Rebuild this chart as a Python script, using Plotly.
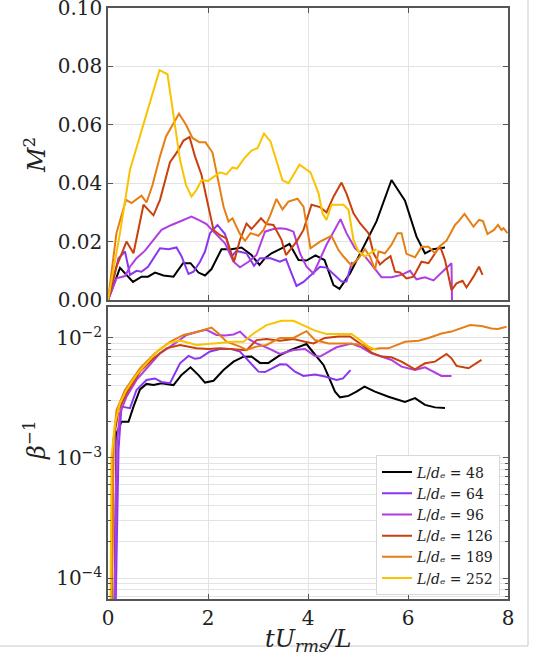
import plotly.graph_objects as go

labels = ["48", "64", "96", "126", "189", "252"]
colors = ["#000000", "#8a35f0", "#b03ee0", "#c9400c", "#e67e14", "#f9c300"]
top_ticks = [0.0, 0.02, 0.04, 0.06, 0.08, 0.10]

# ---- top panel: M^2 ----
t48 = [0, 0.24, 0.5, 0.67, 0.8, 0.94, 1.11, 1.31, 1.5, 1.65, 1.81, 1.94, 2.07, 2.27, 2.47, 2.67, 2.87, 3.03, 3.14, 3.27, 3.47, 3.63, 3.81, 3.97, 4.15, 4.33, 4.51, 4.63, 4.84, 5.04, 5.37, 5.67, 5.94, 6.17, 6.34, 6.5, 6.74]
m48 = [0, 0.011, 0.0062, 0.008, 0.008, 0.0094, 0.0084, 0.008, 0.0126, 0.0126, 0.0094, 0.0084, 0.0106, 0.0174, 0.0174, 0.018, 0.0154, 0.012, 0.0143, 0.016, 0.0177, 0.0192, 0.0137, 0.0135, 0.0153, 0.0137, 0.0051, 0.0038, 0.0091, 0.0157, 0.0269, 0.0411, 0.034, 0.0217, 0.016, 0.0174, 0.018]

t64 = [0, 0.21, 0.34, 0.44, 0.57, 0.67, 0.8, 1.04, 1.21, 1.37, 1.47, 1.61, 1.71, 1.84, 1.94, 2.04, 2.19, 2.34, 2.47, 2.57, 2.77, 2.92, 3.04, 3.25, 3.44, 3.56, 3.67, 3.77, 3.91, 4.07, 4.24, 4.37, 4.51, 4.67, 4.77, 4.88]
m64 = [0, 0.0143, 0.0166, 0.0086, 0.01, 0.0097, 0.0114, 0.0177, 0.0174, 0.018, 0.015, 0.0089, 0.0097, 0.0131, 0.0166, 0.0229, 0.0257, 0.0226, 0.0149, 0.0168, 0.016, 0.0117, 0.0143, 0.0143, 0.0131, 0.014, 0.0091, 0.0048, 0.0062, 0.0086, 0.0114, 0.0111, 0.0088, 0.0063, 0.0063, 0.013]

t96 = [0, 0.17, 0.34, 0.44, 0.57, 0.74, 0.91, 1.07, 1.27, 1.47, 1.67, 1.84, 1.97, 2.14, 2.34, 2.51, 2.64, 2.81, 2.97, 3.14, 3.31, 3.44, 3.57, 3.71, 3.84, 3.97, 4.11, 4.37, 4.65, 4.77, 4.94, 5.14, 5.31, 5.47, 5.67, 5.87, 6.04, 6.17, 6.34, 6.51, 6.71, 6.87, 6.88]
m96 = [0, 0.0074, 0.0082, 0.0114, 0.0143, 0.0169, 0.0206, 0.024, 0.0257, 0.0272, 0.0286, 0.0272, 0.026, 0.0229, 0.0194, 0.0131, 0.0112, 0.0131, 0.0154, 0.0234, 0.0243, 0.0246, 0.0243, 0.0234, 0.016, 0.0114, 0.0091, 0.0189, 0.0277, 0.0229, 0.0177, 0.0149, 0.0114, 0.0078, 0.0078, 0.0086, 0.01, 0.0071, 0.0078, 0.0067, 0.01, 0.0126, 0.0]

t126 = [0, 0.17, 0.37, 0.51, 0.71, 0.8, 0.91, 1.04, 1.24, 1.39, 1.51, 1.63, 1.74, 1.87, 2.01, 2.11, 2.24, 2.37, 2.52, 2.64, 2.77, 2.87, 3.06, 3.17, 3.31, 3.47, 3.56, 3.77, 3.91, 4.07, 4.24, 4.37, 4.51, 4.67, 4.77, 4.91, 5.04, 5.21, 5.31, 5.44, 5.54, 5.65, 5.74, 5.84, 5.97, 6.11, 6.27, 6.41, 6.64, 6.74, 6.87, 6.97, 7.09, 7.17, 7.31, 7.42, 7.49]
m126 = [0, 0.0114, 0.02, 0.016, 0.0326, 0.031, 0.029, 0.0343, 0.0472, 0.0509, 0.0546, 0.0558, 0.0492, 0.0429, 0.032, 0.024, 0.0222, 0.0211, 0.0131, 0.0206, 0.0262, 0.0243, 0.028, 0.026, 0.0257, 0.0206, 0.0154, 0.02, 0.024, 0.0326, 0.0318, 0.03, 0.0354, 0.0402, 0.0364, 0.0297, 0.0263, 0.0229, 0.016, 0.0122, 0.0137, 0.015, 0.0097, 0.0094, 0.0074, 0.008, 0.0131, 0.0126, 0.0185, 0.0137, 0.0034, 0.0057, 0.0066, 0.0043, 0.008, 0.0114, 0.0086]

t189 = [0, 0.17, 0.36, 0.47, 0.67, 0.77, 0.89, 1.04, 1.16, 1.31, 1.42, 1.56, 1.69, 1.83, 1.95, 2.09, 2.17, 2.31, 2.41, 2.49, 2.63, 2.74, 2.85, 3.01, 3.11, 3.24, 3.37, 3.49, 3.61, 3.79, 3.91, 4.05, 4.24, 4.37, 4.47, 4.61, 4.71, 4.87, 5.01, 5.14, 5.24, 5.34, 5.41, 5.54, 5.67, 5.79, 5.87, 5.97, 6.14, 6.27, 6.41, 6.54, 6.64, 6.77, 6.94, 7.01, 7.13, 7.31, 7.42, 7.5, 7.59, 7.72, 7.8, 7.87, 7.91, 7.99]
m189 = [0, 0.023, 0.0343, 0.0332, 0.0357, 0.0334, 0.0394, 0.0492, 0.056, 0.0603, 0.0638, 0.06, 0.0555, 0.054, 0.054, 0.0505, 0.0434, 0.032, 0.0269, 0.028, 0.0229, 0.0203, 0.0229, 0.022, 0.024, 0.0288, 0.0346, 0.031, 0.0337, 0.0347, 0.032, 0.0177, 0.02, 0.0211, 0.022, 0.0171, 0.0149, 0.0118, 0.0143, 0.0174, 0.0149, 0.0103, 0.0166, 0.016, 0.0189, 0.0229, 0.0229, 0.0158, 0.0146, 0.0182, 0.0182, 0.016, 0.0185, 0.0203, 0.0257, 0.0269, 0.0295, 0.0251, 0.0274, 0.027, 0.0226, 0.024, 0.0257, 0.024, 0.0246, 0.0229]

t252 = [0, 0.24, 0.44, 0.67, 0.84, 1.03, 1.19, 1.31, 1.44, 1.56, 1.67, 1.77, 1.87, 2.0, 2.24, 2.37, 2.49, 2.58, 2.72, 2.87, 2.99, 3.12, 3.25, 3.49, 3.61, 3.83, 4.05, 4.21, 4.29, 4.37, 4.47, 4.71, 4.81, 4.91, 5.01, 5.14, 5.37]
m252 = [0, 0.023, 0.0446, 0.058, 0.0675, 0.0787, 0.0773, 0.064, 0.048, 0.0394, 0.0354, 0.0377, 0.041, 0.0408, 0.0437, 0.043, 0.0454, 0.045, 0.0484, 0.0512, 0.052, 0.057, 0.0543, 0.041, 0.040, 0.0463, 0.0437, 0.0366, 0.0297, 0.0274, 0.0326, 0.0326, 0.0309, 0.0206, 0.0166, 0.0149, 0.0174]

# ---- bottom panel: 1/beta ----
s48 = [0.11, 0.17, 0.27, 0.41, 0.51, 0.64, 0.77, 0.91, 1.07, 1.31, 1.47, 1.65, 1.81, 1.94, 2.11, 2.31, 2.51, 2.71, 2.87, 3.04, 3.21, 3.44, 3.67, 3.97, 4.07, 4.31, 4.44, 4.54, 4.64, 4.81, 4.97, 5.13, 5.34, 5.61, 5.94, 6.14, 6.34, 6.54, 6.74]
b48 = [1e-5, 1.6e-3, 2.0e-3, 2.0e-3, 2.68e-3, 3.73e-3, 4.14e-3, 4.05e-3, 4.2e-3, 4.05e-3, 4.92e-3, 5.7e-3, 4.9e-3, 4.25e-3, 4.4e-3, 5.4e-3, 6.35e-3, 6.99e-3, 7.0e-3, 6.2e-3, 6.2e-3, 7.2e-3, 8.0e-3, 8.9e-3, 7.9e-3, 5.96e-3, 4.47e-3, 3.57e-3, 3.2e-3, 3.29e-3, 3.57e-3, 3.93e-3, 3.57e-3, 3.24e-3, 2.93e-3, 3.15e-3, 2.77e-3, 2.64e-3, 2.61e-3]

s64 = [0.12, 0.21, 0.27, 0.44, 0.57, 0.77, 0.94, 1.07, 1.24, 1.44, 1.61, 1.74, 1.84, 2.04, 2.24, 2.47, 2.64, 2.81, 3.01, 3.14, 3.44, 3.57, 3.74, 3.91, 4.14, 4.34, 4.57, 4.7, 4.85]
b64 = [1e-5, 1.17e-3, 2.68e-3, 2.6e-3, 3.69e-3, 4.47e-3, 4.6e-3, 4.3e-3, 4.2e-3, 6.15e-3, 7.08e-3, 6.7e-3, 6.8e-3, 7.72e-3, 8.1e-3, 8.1e-3, 7.7e-3, 6.47e-3, 5.24e-3, 5.2e-3, 6.03e-3, 6.0e-3, 5.24e-3, 4.82e-3, 4.97e-3, 4.77e-3, 4.47e-3, 4.6e-3, 5.4e-3]

s96 = [0.11, 0.17, 0.24, 0.37, 0.57, 0.84, 1.04, 1.34, 1.57, 1.81, 1.97, 2.17, 2.34, 2.51, 2.64, 2.77, 2.97, 3.21, 3.44, 3.71, 3.94, 4.14, 4.24, 4.57, 4.87, 5.07, 5.27, 5.47, 5.67, 5.87, 6.14, 6.34, 6.67, 6.87]
b96 = [1e-5, 1.25e-3, 2.36e-3, 3.24e-3, 4.47e-3, 5.96e-3, 7.45e-3, 9.0e-3, 1.06e-2, 1.13e-2, 1.17e-2, 1.06e-2, 1.05e-2, 1.07e-2, 1.13e-2, 1.0e-2, 9.0e-3, 8.2e-3, 7.35e-3, 7.94e-3, 8.1e-3, 7.08e-3, 7.0e-3, 8.36e-3, 9.0e-3, 8.36e-3, 7.45e-3, 7.0e-3, 6.56e-3, 5.77e-3, 5.4e-3, 5.7e-3, 4.82e-3, 4.82e-3]

s126 = [0.06, 0.11, 0.21, 0.37, 0.64, 0.91, 1.17, 1.44, 1.77, 2.01, 2.24, 2.51, 2.77, 2.97, 3.17, 3.44, 3.71, 3.94, 4.11, 4.34, 4.61, 4.84, 5.04, 5.27, 5.47, 5.67, 5.87, 6.14, 6.34, 6.54, 6.77, 6.87, 6.97, 7.21, 7.47]
b126 = [1e-5, 1.4e-3, 2.5e-3, 3.46e-3, 5.24e-3, 6.77e-3, 8.2e-3, 8.75e-3, 8.2e-3, 8.1e-3, 8.2e-3, 8.1e-3, 7.9e-3, 9.6e-3, 9.8e-3, 9.5e-3, 9.8e-3, 9.3e-3, 9.0e-3, 1.0e-2, 1.03e-2, 1.03e-2, 9.0e-3, 7.55e-3, 7.0e-3, 6.9e-3, 6.35e-3, 5.48e-3, 6.15e-3, 6.35e-3, 7.35e-3, 6.77e-3, 5.85e-3, 5.59e-3, 6.56e-3]

s189 = [0.05, 0.11, 0.17, 0.34, 0.64, 0.94, 1.24, 1.51, 1.77, 2.07, 2.21, 2.37, 2.64, 2.77, 2.97, 3.17, 3.44, 3.71, 3.97, 4.14, 4.41, 4.81, 5.11, 5.27, 5.44, 5.61, 5.94, 6.21, 6.41, 6.67, 6.87, 7.07, 7.24, 7.47, 7.67, 7.8, 7.97]
b189 = [1e-5, 1.41e-3, 2.5e-3, 3.69e-3, 5.59e-3, 7.45e-3, 9.3e-3, 1.06e-2, 1.12e-2, 1.22e-2, 1.09e-2, 9.3e-3, 8.47e-3, 7.94e-3, 8.47e-3, 8.75e-3, 1.0e-2, 1.0e-2, 1.14e-2, 9.6e-3, 9.0e-3, 9.0e-3, 8.75e-3, 8.03e-3, 8.2e-3, 8.2e-3, 9.3e-3, 9.5e-3, 1.0e-2, 1.09e-2, 1.13e-2, 1.2e-2, 1.28e-2, 1.26e-2, 1.2e-2, 1.19e-2, 1.24e-2]

s252 = [0.04, 0.07, 0.14, 0.24, 0.37, 0.57, 0.77, 1.01, 1.24, 1.44, 1.77, 2.11, 2.51, 2.71, 2.91, 3.17, 3.47, 3.71, 3.97, 4.14, 4.37, 4.6, 4.87, 5.04, 5.21, 5.37]
b252 = [1e-5, 1.03e-3, 1.95e-3, 2.86e-3, 3.69e-3, 4.92e-3, 6.15e-3, 7.94e-3, 9.14e-3, 9.5e-3, 8.75e-3, 9.0e-3, 9.3e-3, 9.3e-3, 1.09e-2, 1.28e-2, 1.39e-2, 1.39e-2, 1.24e-2, 1.15e-2, 1.08e-2, 1.08e-2, 1.08e-2, 9.6e-3, 8.47e-3, 7.94e-3]

top_series = [(t48, m48), (t64, m64), (t96, m96), (t126, m126), (t189, m189), (t252, m252)]
bot_series = [(s48, b48), (s64, b64), (s96, b96), (s126, b126), (s189, b189), (s252, b252)]

FONT = "DejaVu Serif"
fig = go.Figure()
for (tx, ty), lab, c in zip(top_series, labels, colors):
    fig.add_trace(go.Scatter(x=tx, y=ty, mode="lines", line=dict(color=c, width=2),
                             showlegend=False, xaxis="x", yaxis="y"))
for (tx, ty), lab, c in zip(bot_series, labels, colors):
    fig.add_trace(go.Scatter(x=tx, y=ty, mode="lines", line=dict(color=c, width=2),
                             name="<i>L</i>/<i>d\u2091</i> = " + lab,
                             xaxis="x2", yaxis="y2"))

grid = "#e3e3e3"
axline = "#555555"
common = dict(showline=True, linecolor=axline, linewidth=1.5, mirror="ticks",
              ticks="inside", ticklen=5, tickcolor=axline, showgrid=True, gridcolor=grid,
              zeroline=False, ticklabeloverflow="allow", automargin=False,
              tickfont=dict(family=FONT, size=20, color="#222"))

H = 591.0
split_top = (599 - 300) / H
split_bot = (599 - 307) / H

fig.update_layout(
    width=538, height=667,
    margin=dict(l=108, r=30, t=8, b=68, autoexpand=False),
    paper_bgcolor="white", plot_bgcolor="white",
    xaxis=dict(domain=[0, 1], range=[0, 8], anchor="y", dtick=2, showticklabels=False, **common),
    yaxis=dict(domain=[split_top, 1], range=[0, 0.1], anchor="x",
               tickvals=top_ticks, ticktext=["%.2f" % v for v in top_ticks], **common),
    xaxis2=dict(domain=[0, 1], range=[0, 8], anchor="y2", dtick=2, **common),
    yaxis2=dict(domain=[0, split_bot], type="log", range=[-4.175, -1.742], anchor="x2",
                tickvals=[1e-4, 1e-3, 1e-2],
                ticktext=["10<sup>−4</sup>", "10<sup>−3</sup>", "10<sup>−2</sup>"],
                minor=dict(ticks="inside", ticklen=3, tickcolor=axline, showgrid=True,
                           gridcolor=grid, dtick="D1"),
                **common),
    legend=dict(x=0.98, xanchor="right", y=0.006, yanchor="bottom",
                bgcolor="rgba(255,255,255,0.9)", bordercolor="#d8d8d8", borderwidth=1,
                font=dict(family=FONT, size=14, color="#222"), tracegroupgap=0,
                itemwidth=30),
    annotations=[
        dict(text="<i>M</i><sup>2</sup>", xref="paper", yref="paper",
             x=(35 - 108) / 400, y=(599 - 155) / H, showarrow=False, textangle=-90,
             font=dict(family=FONT, size=24, color="#222"), xanchor="center", yanchor="middle"),
        dict(text="<i>β</i><sup>−1</sup>", xref="paper", yref="paper",
             x=(35 - 108) / 400, y=(599 - 440) / H, showarrow=False, textangle=-90,
             font=dict(family=FONT, size=24, color="#222"), xanchor="center", yanchor="middle"),
        dict(text="<i>tU</i><sub><i>rms</i></sub><i>/L</i>", xref="paper", yref="paper",
             x=0.5, y=(599 - 640) / H, showarrow=False,
             font=dict(family=FONT, size=24, color="#222"), xanchor="center", yanchor="middle"),
    ],
    shapes=[
        dict(type="line", xref="paper", yref="paper", x0=(528 - 108) / 400, x1=(528 - 108) / 400,
             y0=(599 - 0) / H, y1=(599 - 646) / H, line=dict(color="#c8c8c8", width=1)),
        dict(type="line", xref="paper", yref="paper", x0=-108 / 400, x1=(528 - 108) / 400,
             y0=(599 - 646) / H, y1=(599 - 646) / H, line=dict(color="#c8c8c8", width=1)),
    ],
)

fig.write_html("out.html")
